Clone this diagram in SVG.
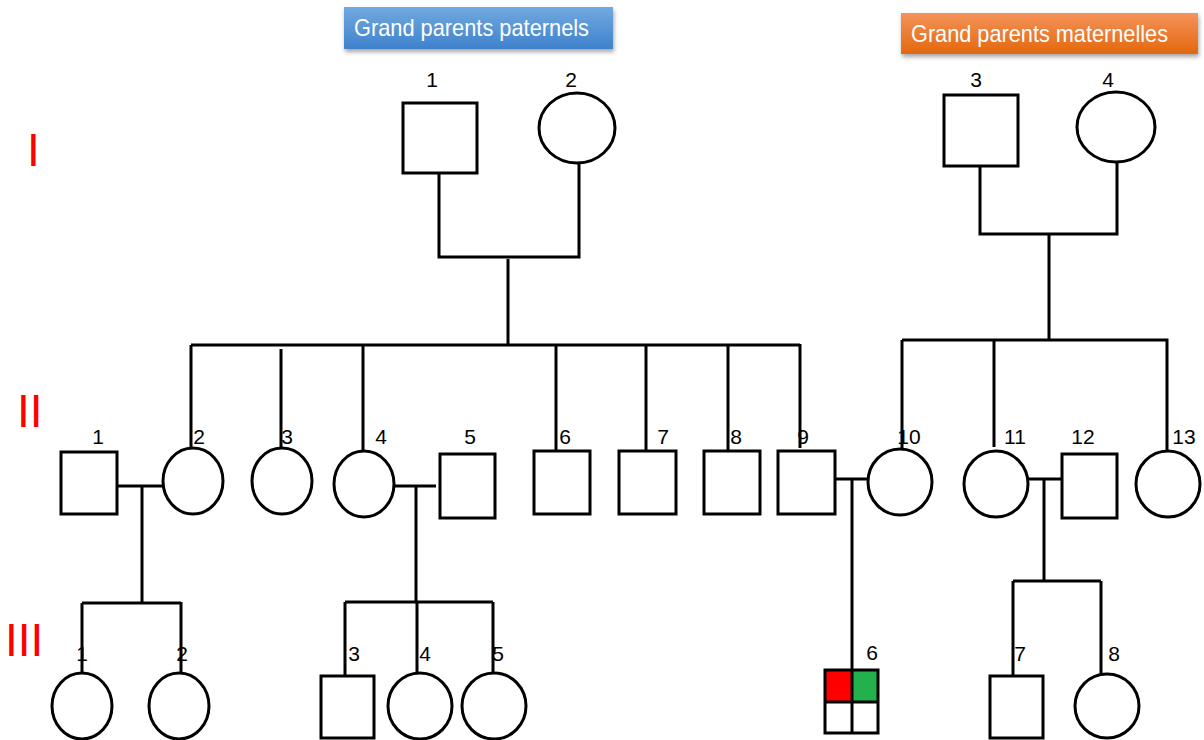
<svg xmlns="http://www.w3.org/2000/svg" width="1204" height="740" viewBox="0 0 1204 740">
  <defs>
    <linearGradient id="gradBlue" x1="0" y1="0" x2="0" y2="1">
      <stop offset="0" stop-color="#72a9df"/>
      <stop offset="1" stop-color="#3e82cd"/>
    </linearGradient>
    <linearGradient id="gradOrange" x1="0" y1="0" x2="0" y2="1">
      <stop offset="0" stop-color="#f4935a"/>
      <stop offset="1" stop-color="#e4670d"/>
    </linearGradient>
    <filter id="shadow" x="-10%" y="-30%" width="120%" height="180%">
      <feDropShadow dx="1" dy="3" stdDeviation="2" flood-color="#000" flood-opacity="0.35"/>
    </filter>
  </defs>
  <style>
    .shape { fill: #ffffff; stroke: #000000; stroke-width: 3; }
    .line { fill: none; stroke: #000000; stroke-width: 3; }
    .num { font-family: "Liberation Sans", Arial, sans-serif; font-size: 21px; fill: #000000; text-anchor: middle; }
    .gen { font-family: "Liberation Sans", Arial, sans-serif; font-size: 46px; fill: #ff0000; }
    .banner { font-family: "Liberation Sans", Arial, sans-serif; font-size: 24px; fill: #ffffff; }
  </style>

  <rect width="1204" height="740" fill="#ffffff"/>

  <!-- banners -->
  <g id="banner-paternal">
    <rect x="344" y="7" width="269" height="42" fill="url(#gradBlue)" filter="url(#shadow)"/>
    <text class="banner" x="354" y="36" textLength="235" lengthAdjust="spacingAndGlyphs">Grand parents paternels</text>
  </g>
  <g id="banner-maternal">
    <rect x="901" y="13" width="297" height="41" fill="url(#gradOrange)" filter="url(#shadow)"/>
    <text class="banner" x="911" y="42" textLength="257" lengthAdjust="spacingAndGlyphs">Grand parents maternelles</text>
  </g>

  <!-- generation numerals -->
  <g id="generations">
    <text class="gen" x="27" y="166">I</text>
    <text class="gen" x="17" y="427">II</text>
    <text class="gen" x="5" y="656">III</text>
  </g>

  <!-- connectors -->
  <g id="connectors" class="line">
    <!-- paternal couple -->
    <path d="M439 173 V257 H579 V163"/>
    <path d="M508 259 V344"/>
    <path d="M191 345 H800"/>
    <path d="M191 345 V448"/>
    <path d="M281 349 V448"/>
    <path d="M363 345 V451"/>
    <path d="M556 345 V451"/>
    <path d="M646 345 V451"/>
    <path d="M728 345 V451"/>
    <path d="M800 344 V448"/>
    <!-- maternal couple -->
    <path d="M980 167 V234 H1117 V162"/>
    <path d="M1049 234 V340"/>
    <path d="M902 340 H1167 V452"/>
    <path d="M902 340 V449"/>
    <path d="M994 340 V447"/>
    <!-- marriages generation II -->
    <path d="M117 486 H163"/>
    <path d="M142 486 V603"/>
    <path d="M394 486 H436"/>
    <path d="M416 486 V602"/>
    <path d="M835 479 H868"/>
    <path d="M852 479 V669"/>
    <path d="M1028 479 H1062"/>
    <path d="M1044 479 V581"/>
    <!-- sibships generation III -->
    <path d="M82 603 H181"/>
    <path d="M82 603 V675"/>
    <path d="M181 602 V673"/>
    <path d="M345 602 H493"/>
    <path d="M345 602 V676"/>
    <path d="M417 602 V673"/>
    <path d="M493 602 V676"/>
    <path d="M1013 581 H1101"/>
    <path d="M1013 581 V676"/>
    <path d="M1101 581 V674"/>
  </g>

  <!-- generation I -->
  <g id="I-1"><rect class="shape" x="403" y="103" width="74" height="70"/><text class="num" x="432" y="87">1</text></g>
  <g id="I-2"><ellipse class="shape" cx="577" cy="128" rx="38" ry="35"/><text class="num" x="571" y="87">2</text></g>
  <g id="I-3"><rect class="shape" x="944" y="95" width="74" height="71"/><text class="num" x="976" y="87">3</text></g>
  <g id="I-4"><ellipse class="shape" cx="1116" cy="127" rx="39" ry="35"/><text class="num" x="1108" y="87">4</text></g>

  <!-- generation II -->
  <g id="II-1"><rect class="shape" x="61" y="452" width="56" height="62"/><text class="num" x="98" y="444">1</text></g>
  <g id="II-2"><ellipse class="shape" cx="193" cy="481" rx="30" ry="33"/><text class="num" x="199" y="444">2</text></g>
  <g id="II-3"><ellipse class="shape" cx="282" cy="481" rx="30" ry="33"/><text class="num" x="287" y="444">3</text></g>
  <g id="II-4"><ellipse class="shape" cx="364" cy="484" rx="30" ry="33"/><text class="num" x="381" y="444">4</text></g>
  <g id="II-5"><rect class="shape" x="440" y="454" width="55" height="64"/><text class="num" x="470" y="444">5</text></g>
  <g id="II-6"><rect class="shape" x="534" y="451" width="56" height="63"/><text class="num" x="565" y="444">6</text></g>
  <g id="II-7"><rect class="shape" x="619" y="451" width="57" height="63"/><text class="num" x="663" y="444">7</text></g>
  <g id="II-8"><rect class="shape" x="704" y="451" width="56" height="63"/><text class="num" x="736" y="444">8</text></g>
  <g id="II-9"><rect class="shape" x="778" y="451" width="57" height="63"/><text class="num" x="803" y="444">9</text></g>
  <g id="II-10"><ellipse class="shape" cx="900" cy="482" rx="32" ry="33"/><text class="num" x="909" y="444">10</text></g>
  <g id="II-11"><ellipse class="shape" cx="996" cy="484" rx="32" ry="33"/><text class="num" x="1015" y="444">11</text></g>
  <g id="II-12"><rect class="shape" x="1062" y="454" width="55" height="64"/><text class="num" x="1083" y="444">12</text></g>
  <g id="II-13"><ellipse class="shape" cx="1168" cy="484" rx="32" ry="33"/><text class="num" x="1184" y="444">13</text></g>

  <!-- generation III -->
  <g id="III-1"><ellipse class="shape" cx="82" cy="706" rx="30" ry="33"/><text class="num" x="82" y="661">1</text></g>
  <g id="III-2"><ellipse class="shape" cx="179" cy="706" rx="30" ry="33"/><text class="num" x="182" y="661">2</text></g>
  <g id="III-3"><rect class="shape" x="321" y="676" width="53" height="62"/><text class="num" x="354" y="661">3</text></g>
  <g id="III-4"><ellipse class="shape" cx="420" cy="706" rx="32" ry="33"/><text class="num" x="425" y="661">4</text></g>
  <g id="III-5"><ellipse class="shape" cx="494" cy="706" rx="32" ry="33"/><text class="num" x="498" y="661">5</text></g>
  <g id="III-6">
    <rect x="825" y="670" width="27" height="32" fill="#ff0000"/>
    <rect x="852" y="670" width="26" height="32" fill="#22b14c"/>
    <rect class="shape" x="825" y="670" width="53" height="63" style="fill:none"/>
    <path class="line" d="M852 670 V733 M825 702 H878"/>
    <text class="num" x="872" y="660">6</text>
  </g>
  <g id="III-7"><rect class="shape" x="990" y="676" width="53" height="62"/><text class="num" x="1020" y="661">7</text></g>
  <g id="III-8"><ellipse class="shape" cx="1107" cy="706" rx="32" ry="32"/><text class="num" x="1114" y="661">8</text></g>
</svg>
